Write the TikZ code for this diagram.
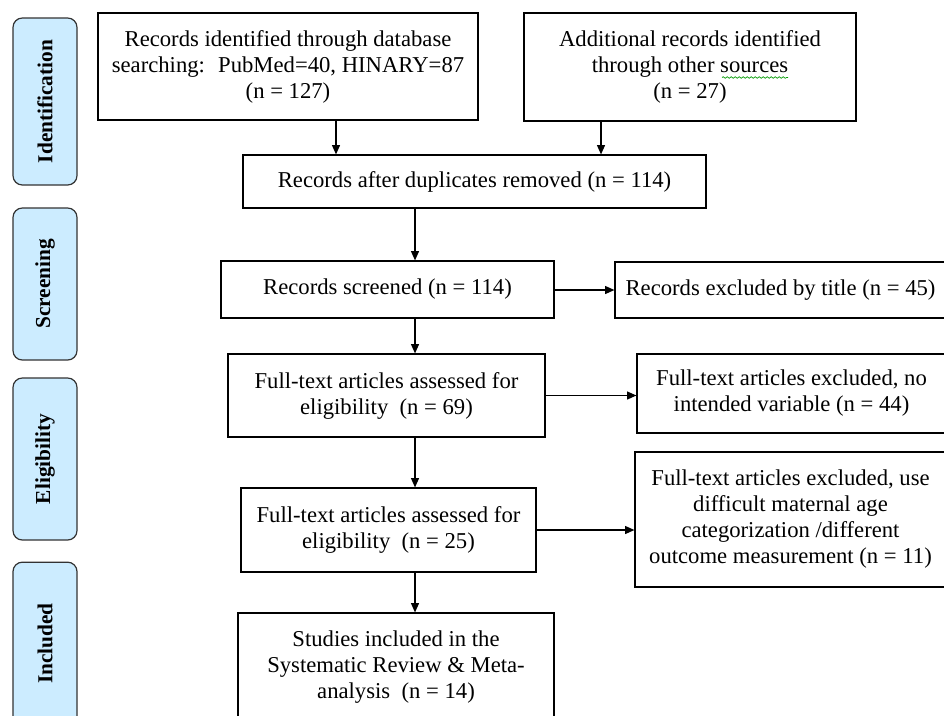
\documentclass[tikz,border=0pt]{standalone}
\usepackage{fontspec}
\setmainfont{Liberation Serif}
\usetikzlibrary{arrows.meta,decorations.pathmorphing}
\definecolor{stagefill}{RGB}{204,236,255}
\tikzset{
  box/.style={draw, line width=0.9pt, align=center, inner sep=2pt,
    font=\fontsize{17}{19.5}\selectfont},
  stage/.style={draw=black!80, fill=stagefill, rounded corners=7pt,
    line width=0.9pt, rotate=90, font=\fontsize{16}{19}\selectfont\bfseries},
  arr/.style={-{Triangle[length=7pt,width=6pt]}, line width=0.9pt},
}
\begin{document}
\begin{tikzpicture}[x=0.75pt,y=-0.75pt]
          \useasboundingbox (0,0) rectangle (944,715);
          % stage labels
          \node[stage, minimum width=125.25pt, minimum height=48pt] (ident) at (45,101.5) {Identification};
          \node[stage, minimum width=114pt, minimum height=48pt] (screen) at (45,284) {Screening};
          \node[stage, minimum width=121.5pt, minimum height=48pt] (elig) at (45,459) {Eligibility};
          \node[stage, minimum width=122pt, minimum height=48pt] (incl) at (45,643.5) {Included};
          % identification
          \node[box, minimum width=285pt, minimum height=80.25pt] (dbrec) at (288,66.5)
            {Records identified through database\\searching:~ PubMed=40, HINARY=87\\(n = 127)};
          \node[box, minimum width=249pt, minimum height=81pt] (addrec) at (690,67)
            {Additional records identified\\through other sources\\(n = 27)};
          \draw[green!60!black, line width=0.5pt, decorate,
            decoration={snake, amplitude=0.6pt, segment length=3pt}] (722,77.5) -- (788,77.5);
          \node[box, minimum width=347.25pt, minimum height=39.75pt] (dedup) at (474.5,181.5)
            {Records after duplicates removed (n = 114)};
          % screening
          \node[box, minimum width=249.75pt, minimum height=42.75pt] (screened) at (387.5,289.5)
            {Records screened (n = 114)};
          \node[box, minimum width=248.25pt, minimum height=42pt] (bytitle) at (780.5,290)
            {Records excluded by title (n = 45)};
          % eligibility
          \node[box, minimum width=237.75pt, minimum height=62.25pt] (full1) at (386.5,395.5)
            {Full-text articles assessed for\\eligibility~ (n = 69)};
          \node[box, minimum width=231.75pt, minimum height=59.25pt] (novar) at (791.5,393.5)
            {Full-text articles excluded, no\\intended variable (n = 44)};
          \node[box, minimum width=221.25pt, minimum height=63pt] (full2) at (388.5,530)
            {Full-text articles assessed for\\eligibility~ (n = 25)};
          \node[box, minimum width=233.25pt, minimum height=101.25pt] (agecat) at (790.5,519.5)
            {Full-text articles excluded, use\\difficult maternal age\\categorization /different\\outcome measurement (n = 11)};
          % included
          \node[box, minimum width=237pt, minimum height=81pt] (studies) at (396,667)
            {Studies included in the\\Systematic Review \& Meta-\\analysis~ (n = 14)};
          % connectors
          \coordinate (leftx) at (336,0);
          \coordinate (rightx) at (601,0);
          \coordinate (spine) at (415,0);
          \draw[arr] (dbrec.south -| leftx) -- (dedup.north -| leftx);
          \draw[arr] (addrec.south -| rightx) -- (dedup.north -| rightx);
          \draw[arr] (dedup.south -| spine) -- (screened.north -| spine);
          \draw[arr] (screened.south -| spine) -- (full1.north -| spine);
          \draw[arr] (full1.south -| spine) -- (full2.north -| spine);
          \draw[arr] (full2.south -| spine) -- (studies.north -| spine);
          \draw[arr] (screened.east |- bytitle.west) -- (bytitle.west);
          \draw[arr] (full1.east) -- (full1.east -| novar.west);
          \draw[arr] (full2.east) -- (full2.east -| agecat.west);
        \end{tikzpicture}
\end{document}
